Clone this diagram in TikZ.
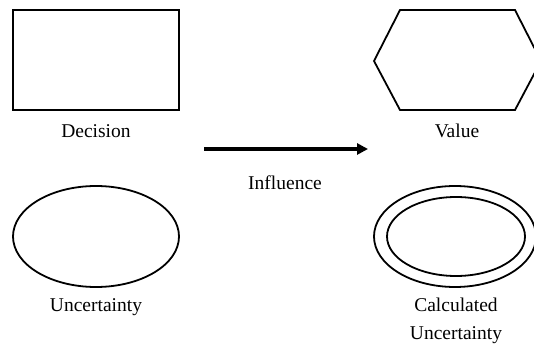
\documentclass[tikz,border=0pt]{standalone}
\usepackage{fontspec}
\setmainfont{Liberation Serif}
\usetikzlibrary{shapes.geometric,arrows.meta}
\begin{document}
\begin{tikzpicture}[x=1pt,y=1pt,
  shp/.style={draw=black,line width=1.8pt},
  lbl/.style={font=\fontsize{19.5}{27.5}\selectfont,inner sep=0pt,align=center}]
\useasboundingbox (0,0) rectangle (534,345);
\clip (0,0) rectangle (534,345);
% Decision
\draw[shp] (13,235) rectangle (179,335);
\node[lbl] (dec) at (96,214) {Decision};
% Value hexagon
\draw[shp] (374,284) -- (400,335) -- (515,335) -- (541,284) -- (515,235) -- (400,235) -- cycle;
\node[lbl] (val) at (457,214) {Value};
% Arrow
\coordinate (a1) at (204,196);
\coordinate (a2) at (368,196);
\draw[line width=3.5pt,-{Triangle[length=11pt,width=11pt]}] (a1) -- (a2);
\node[lbl] (inf) at (285,162) {Influence};
% Uncertainty
\node[shp,ellipse,minimum width=166pt,minimum height=101pt,inner sep=0pt] (unc) at (96,108.5) {};
\node[lbl] (uncl) at (96,38) {Uncertainty};
% Calculated uncertainty
\node[shp,ellipse,minimum width=162pt,minimum height=101pt,inner sep=0pt] (cu1) at (455,108.5) {};
\node[shp,ellipse,minimum width=138pt,minimum height=79pt,inner sep=0pt] (cu2) at (456,108.5) {};
\node[lbl] (cul) at (456,24) {Calculated\\Uncertainty};
\end{tikzpicture}
\end{document}
